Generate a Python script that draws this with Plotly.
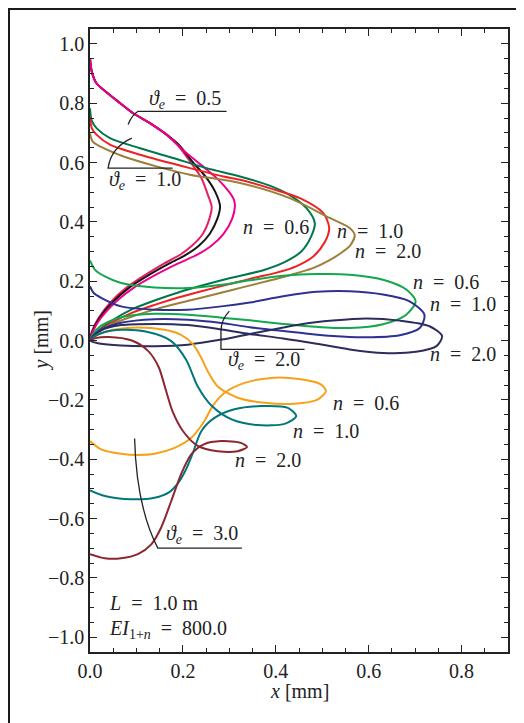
"""Tip trajectories for different end rotations and exponents n."""
import plotly.graph_objects as go

# --- data (x [mm], y [mm]) ---
# theta_e = 0.5
TH05_TOP = [(0, 0.95), (0.004, 0.905), (0.014, 0.867), (0.036, 0.836), (0.065, 0.80),
            (0.093, 0.766), (0.129, 0.733), (0.165, 0.694)]
TH05_N06 = TH05_TOP + [(0.19, 0.656), (0.215, 0.604), (0.24, 0.547), (0.254, 0.49), (0.262, 0.45),
                       (0.257, 0.41), (0.243, 0.36), (0.22, 0.32), (0.195, 0.29), (0.16, 0.26),
                       (0.12, 0.222), (0.08, 0.18), (0.045, 0.13), (0.018, 0.075), (0.004, 0.03), (0, 0)]
TH05_N10 = TH05_TOP + [(0.193, 0.657), (0.22, 0.604), (0.25, 0.55), (0.27, 0.50), (0.28, 0.452),
                       (0.274, 0.41), (0.258, 0.36), (0.235, 0.32), (0.208, 0.29), (0.171, 0.26),
                       (0.128, 0.222), (0.086, 0.18), (0.049, 0.13), (0.02, 0.075), (0.005, 0.03), (0, 0)]
TH05_N20 = TH05_TOP + [(0.202, 0.64), (0.239, 0.592), (0.275, 0.544), (0.30, 0.50), (0.31, 0.474),
                       (0.312, 0.452), (0.306, 0.41), (0.288, 0.36), (0.262, 0.32), (0.232, 0.29),
                       (0.19, 0.26), (0.142, 0.222), (0.096, 0.18), (0.055, 0.13), (0.023, 0.075),
                       (0.006, 0.03), (0, 0)]
# theta_e = 1.0
TH10_N06 = [(0, 0.783), (0.004, 0.74), (0.014, 0.716), (0.043, 0.682), (0.108, 0.648), (0.179, 0.615),
            (0.251, 0.581), (0.323, 0.553), (0.387, 0.522), (0.43, 0.49), (0.466, 0.446), (0.484, 0.396),
            (0.476, 0.35), (0.455, 0.30), (0.42, 0.265), (0.373, 0.237), (0.30, 0.21), (0.247, 0.188),
            (0.19, 0.162), (0.139, 0.135), (0.09, 0.105), (0.05, 0.07), (0.02, 0.036), (0, 0)]
TH10_N10 = [(0, 0.755), (0.004, 0.715), (0.014, 0.694), (0.043, 0.66), (0.108, 0.626), (0.215, 0.581),
            (0.287, 0.553), (0.323, 0.542), (0.39, 0.512), (0.452, 0.48), (0.502, 0.43), (0.515, 0.379),
            (0.505, 0.33), (0.48, 0.282), (0.444, 0.25), (0.40, 0.228), (0.355, 0.212), (0.30, 0.19),
            (0.244, 0.168), (0.19, 0.145), (0.139, 0.12), (0.09, 0.093), (0.05, 0.063), (0.02, 0.033), (0, 0)]
TH10_N20 = [(0, 0.699), (0.006, 0.67), (0.022, 0.654), (0.071, 0.621), (0.143, 0.587), (0.215, 0.559),
            (0.323, 0.531), (0.43, 0.48), (0.516, 0.413), (0.559, 0.379), (0.57, 0.355), (0.56, 0.32),
            (0.545, 0.30), (0.515, 0.27), (0.48, 0.244), (0.43, 0.22), (0.387, 0.202), (0.33, 0.18),
            (0.28, 0.16), (0.21, 0.133), (0.14, 0.105), (0.08, 0.075), (0.04, 0.05), (0.015, 0.025), (0, 0)]
# theta_e = 2.0
TH20_N06 = [(0, 0.27), (0.01, 0.24), (0.032, 0.216), (0.067, 0.194), (0.139, 0.179), (0.211, 0.177),
            (0.283, 0.188), (0.344, 0.203), (0.416, 0.218), (0.488, 0.224), (0.559, 0.222), (0.631, 0.205),
            (0.681, 0.172), (0.701, 0.132), (0.681, 0.087), (0.631, 0.055), (0.559, 0.042), (0.488, 0.046),
            (0.416, 0.056), (0.344, 0.068), (0.283, 0.077), (0.211, 0.087), (0.139, 0.09), (0.067, 0.078),
            (0.024, 0.05), (0.006, 0.02), (0, 0)]
TH20_N10 = [(0, 0.183), (0.008, 0.16), (0.024, 0.144), (0.067, 0.115), (0.139, 0.104), (0.211, 0.104),
            (0.283, 0.115), (0.344, 0.128), (0.416, 0.149), (0.488, 0.164), (0.559, 0.166), (0.631, 0.155),
            (0.688, 0.132), (0.72, 0.087), (0.71, 0.042), (0.667, 0.018), (0.595, 0.011), (0.523, 0.015),
            (0.452, 0.026), (0.344, 0.045), (0.283, 0.059), (0.211, 0.07), (0.139, 0.072), (0.067, 0.06),
            (0.024, 0.037), (0.006, 0.015), (0, 0)]
TH20_N20 = [(0, 0), (0.02, -0.01), (0.067, -0.017), (0.139, -0.019), (0.211, -0.014), (0.283, 0.003),
            (0.344, 0.022), (0.452, 0.054), (0.523, 0.067), (0.595, 0.074), (0.667, 0.067), (0.731, 0.048),
            (0.758, 0.015), (0.746, -0.019), (0.702, -0.038), (0.631, -0.042), (0.559, -0.03),
            (0.488, -0.011), (0.416, 0.007), (0.344, 0.022), (0.283, 0.037), (0.211, 0.052),
            (0.139, 0.056), (0.067, 0.052), (0.025, 0.035), (0, 0)]
# theta_e = 3.0
TH30_N06 = [(0, -0.339), (0.024, -0.367), (0.067, -0.382), (0.103, -0.386), (0.139, -0.382),
            (0.182, -0.362), (0.218, -0.328), (0.246, -0.272), (0.264, -0.221), (0.29, -0.176),
            (0.333, -0.143), (0.39, -0.126), (0.454, -0.131), (0.497, -0.148), (0.508, -0.171),
            (0.49, -0.199), (0.44, -0.213), (0.376, -0.21), (0.318, -0.193), (0.275, -0.155),
            (0.254, -0.105), (0.24, -0.06), (0.222, -0.013), (0.195, 0.02), (0.16, 0.036),
            (0.1, 0.044), (0.05, 0.036), (0.015, 0.018), (0, 0)]
TH30_N10 = [(0, -0.505), (0.032, -0.524), (0.089, -0.535), (0.139, -0.53), (0.17, -0.512),
            (0.19, -0.48), (0.205, -0.44), (0.22, -0.385), (0.24, -0.305), (0.268, -0.261),
            (0.311, -0.232), (0.368, -0.221), (0.426, -0.227), (0.444, -0.255), (0.419, -0.281),
            (0.36, -0.285), (0.305, -0.266), (0.262, -0.22), (0.232, -0.155), (0.207, -0.065),
            (0.175, -0.002), (0.12, 0.03), (0.07, 0.036), (0.03, 0.028), (0.008, 0.012), (0, 0)]
TH30_N20 = [(0, -0.72), (0.032, -0.734), (0.067, -0.734), (0.103, -0.72), (0.132, -0.687),
            (0.153, -0.631), (0.175, -0.541), (0.196, -0.451), (0.218, -0.384), (0.245, -0.35),
            (0.283, -0.339), (0.325, -0.345), (0.338, -0.359), (0.318, -0.373), (0.275, -0.373),
            (0.232, -0.355), (0.2, -0.305), (0.178, -0.24), (0.162, -0.16), (0.148, -0.09),
            (0.125, -0.035), (0.09, 0.0), (0.04, 0.012), (0.012, 0.008), (0, 0)]

CURVES = [  # (points, colour)
    (TH05_N06, "#ea1d5d"), (TH05_N10, "#151515"), (TH05_N20, "#ec008c"),
    (TH10_N06, "#00774a"), (TH10_N10, "#ee2222"), (TH10_N20, "#9b7f3a"),
    (TH20_N06, "#12a84b"), (TH20_N10, "#2e3192"), (TH20_N20, "#2c2d5c"),
    (TH30_N06, "#f7a11a"), (TH30_N10, "#00777d"), (TH30_N20, "#8c2730"),
]

FONT = "Liberation Serif"
TXT = "#222"
EQ = "\u2002=\u2002"  # TeX-like wide spacing round "="
TH = "<i>ϑ</i><sub><i>e</i></sub>"
N = "<i>n</i>"

fig = go.Figure()
for pts, col in CURVES:
    fig.add_scatter(x=[p[0] for p in pts], y=[p[1] for p in pts], mode="lines",
                    line=dict(color=col, width=2, shape="spline", smoothing=0.8),
                    showlegend=False, hoverinfo="skip")

# labels: (text, x, y, anchor)
LABELS = [
    (f"{TH}{EQ}0.5", 0.204, 0.812, "center"), (f"{TH}{EQ}1.0", 0.118, 0.540, "center"),
    (f"{N}{EQ}0.6", 0.40, 0.384, "center"), (f"{N}{EQ}1.0", 0.602, 0.368, "center"),
    (f"{N}{EQ}2.0", 0.641, 0.303, "center"),
    (f"{N}{EQ}0.6", 0.766, 0.196, "center"), (f"{N}{EQ}1.0", 0.804, 0.122, "center"),
    (f"{N}{EQ}2.0", 0.804, -0.046, "center"), (f"{TH}{EQ}2.0", 0.374, -0.066, "center"),
    (f"{N}{EQ}0.6", 0.594, -0.211, "center"), (f"{N}{EQ}1.0", 0.508, -0.306, "center"),
    (f"{N}{EQ}2.0", 0.383, -0.403, "center"), (f"{TH}{EQ}3.0", 0.241, -0.655, "center"),
    (f"<i>L</i>{EQ}1.0 m", 0.037, -0.886, "left"),
    (f"<i>EI</i><sub>1+<i>n</i></sub>{EQ}800.0", 0.037, -0.975, "left"),
]
for txt, x, y, anc in LABELS:
    fig.add_annotation(x=x, y=y, text=txt, showarrow=False, xanchor=anc, yanchor="middle",
                       font=dict(family=FONT, size=20, color=TXT))

# leader lines
lead = dict(color=TXT, width=1.3)
for path in ["M 0.082 0.728 Q 0.09 0.76 0.103 0.772 L 0.294 0.772",
             "M 0.09 0.682 Q 0.045 0.65 0.039 0.581 L 0.178 0.581",
             "M 0.30 0.099 Q 0.282 0.07 0.282 0.03 L 0.282 -0.030 L 0.462 -0.030",
             "M 0.096 -0.33 Q 0.10 -0.56 0.146 -0.70 L 0.327 -0.70"]:
    fig.add_shape(type="path", path=path, xref="x", yref="y", line=lead)

# outer frame (page draws the figure 8 px in from the window corner)
fig.add_shape(type="rect", xref="paper", yref="paper", x0=-0.195, x1=1.031, y0=-0.15, y1=1.033,
              line=dict(color="#1a1a1a", width=3))

fig.add_annotation(text="<i>x</i> [mm]", xref="paper", yref="paper", x=0.5, y=-0.063,
                   xanchor="center", yanchor="middle", showarrow=False,
                   font=dict(family=FONT, size=20, color=TXT))
fig.add_annotation(text="<i>y</i> [mm]", xref="paper", yref="paper", x=-0.115, y=0.5,
                   xanchor="center", yanchor="middle", textangle=-90, showarrow=False,
                   font=dict(family=FONT, size=20, color=TXT))

axis = dict(showgrid=False, zeroline=False, showline=True, linecolor=TXT, linewidth=1.5,
            mirror="ticks", ticks="inside", ticklen=7, tickwidth=1.2, tickcolor=TXT,
            tickformat=".1f", tickfont=dict(family=FONT, size=20, color=TXT))
fig.update_xaxes(**axis, range=[0, 0.9], dtick=0.2,
                 minor=dict(dtick=0.05, ticks="inside", ticklen=4, tickcolor=TXT))
fig.update_yaxes(**axis, range=[-1.05, 1.05], dtick=0.2,
                 minor=dict(dtick=0.05, ticks="inside", ticklen=4, tickcolor=TXT))
fig.update_layout(width=524, height=723,
                  margin=dict(l=82, r=24, t=21, b=79, autoexpand=False),
                  plot_bgcolor="white", paper_bgcolor="white")
fig.write_html("out.html")
